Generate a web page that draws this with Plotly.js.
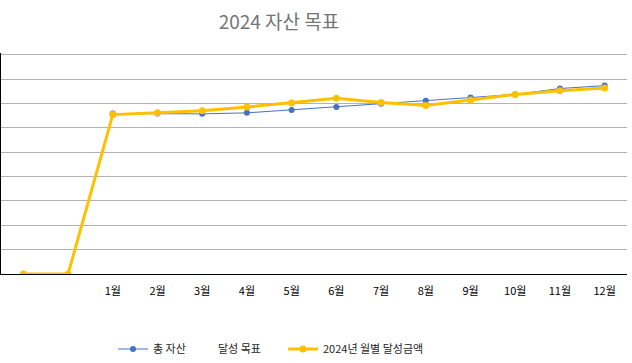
<!DOCTYPE html>
<html>
<head>
<meta charset="utf-8">
<script src="https://cdn.plot.ly/plotly-3.0.1.min.js"></script>
<style>html,body{margin:0;padding:0;background:#fff;}#chart{width:632px;height:363px;}</style>
</head>
<body>
<div id="chart"></div>
<script>
var categories = [" ", "  ", "1월", "2월", "3월", "4월", "5월", "6월", "7월", "8월", "9월", "10월", "11월", "12월"];
var totalAssets = [null, null, 6.59, 6.59, 6.58, 6.62, 6.74, 6.86, 7.00, 7.12, 7.25, 7.38, 7.62, 7.74];
var targetGoal = [null, null, null, null, null, null, null, null, null, null, null, null, null, null];
var monthlyAchieved = [0, 0, 6.55, 6.63, 6.71, 6.86, 7.03, 7.22, 7.05, 6.92, 7.15, 7.38, 7.53, 7.64];

var FONT = "'Noto Sans CJK KR', 'Noto Sans', sans-serif";

var traces = [
  {
    x: categories, y: totalAssets, name: "총 자산", type: "scatter", mode: "lines+markers",
    line: {color: "#4472C4", width: 1}, marker: {color: "#4472C4", size: 6},
    legend: "legend", hoverinfo: "skip", showlegend: true
  },
  {
    x: categories, y: targetGoal, name: "달성 목표", type: "scatter", mode: "lines",
    line: {color: "rgba(0,0,0,0)", width: 1},
    legend: "legend2", hoverinfo: "skip", showlegend: true
  },
  {
    x: categories, y: monthlyAchieved, name: "2024년 월별 달성금액", type: "scatter", mode: "lines+markers",
    line: {color: "#FFC000", width: 3}, marker: {color: "#FFC000", size: 7},
    legend: "legend3", hoverinfo: "skip", showlegend: true
  }
];

function leg(x) {
  return {
    orientation: "h", xref: "container", yref: "container",
    x: x / 632, xanchor: "left", y: 1 - 349 / 363, yanchor: "middle",
    font: {family: FONT, size: 11, color: "#262626"},
    bgcolor: "rgba(0,0,0,0)", borderwidth: 0, tracegroupgap: 0
  };
}

var layout = {
  width: 632, height: 363,
  margin: {l: 1, r: 5, t: 53, b: 89, pad: 0},
  paper_bgcolor: "#fff", plot_bgcolor: "#fff",
  font: {family: FONT, size: 11, color: "#000"},
  title: {
    text: "2024 자산 목표", font: {family: FONT, size: 19, color: "#757575"},
    xref: "container", yref: "container", x: 279 / 632, xanchor: "center",
    y: 1 - 22 / 363, yanchor: "middle"
  },
  xaxis: {
    type: "category", categoryorder: "array", categoryarray: categories,
    range: [-0.5, categories.length - 0.5], autorange: false,
    showgrid: false, zeroline: false, showline: true, linecolor: "#000", linewidth: 1,
    ticks: "", ticklabelstandoff: 7, tickfont: {family: FONT, size: 11, color: "#000"}, fixedrange: true
  },
  yaxis: {
    range: [0, 9.08], autorange: false, dtick: 1, tick0: 0, showticklabels: false, ticks: "",
    showgrid: true, gridcolor: "#B3B3B3", gridwidth: 1, zeroline: false,
    showline: true, linecolor: "#000", linewidth: 1, fixedrange: true
  },
  showlegend: true,
  legend: leg(113),
  legend2: leg(178),
  legend3: leg(283)
};

Plotly.newPlot("chart", traces, layout, {displayModeBar: false, staticPlot: true});
</script>
</body>
</html>
